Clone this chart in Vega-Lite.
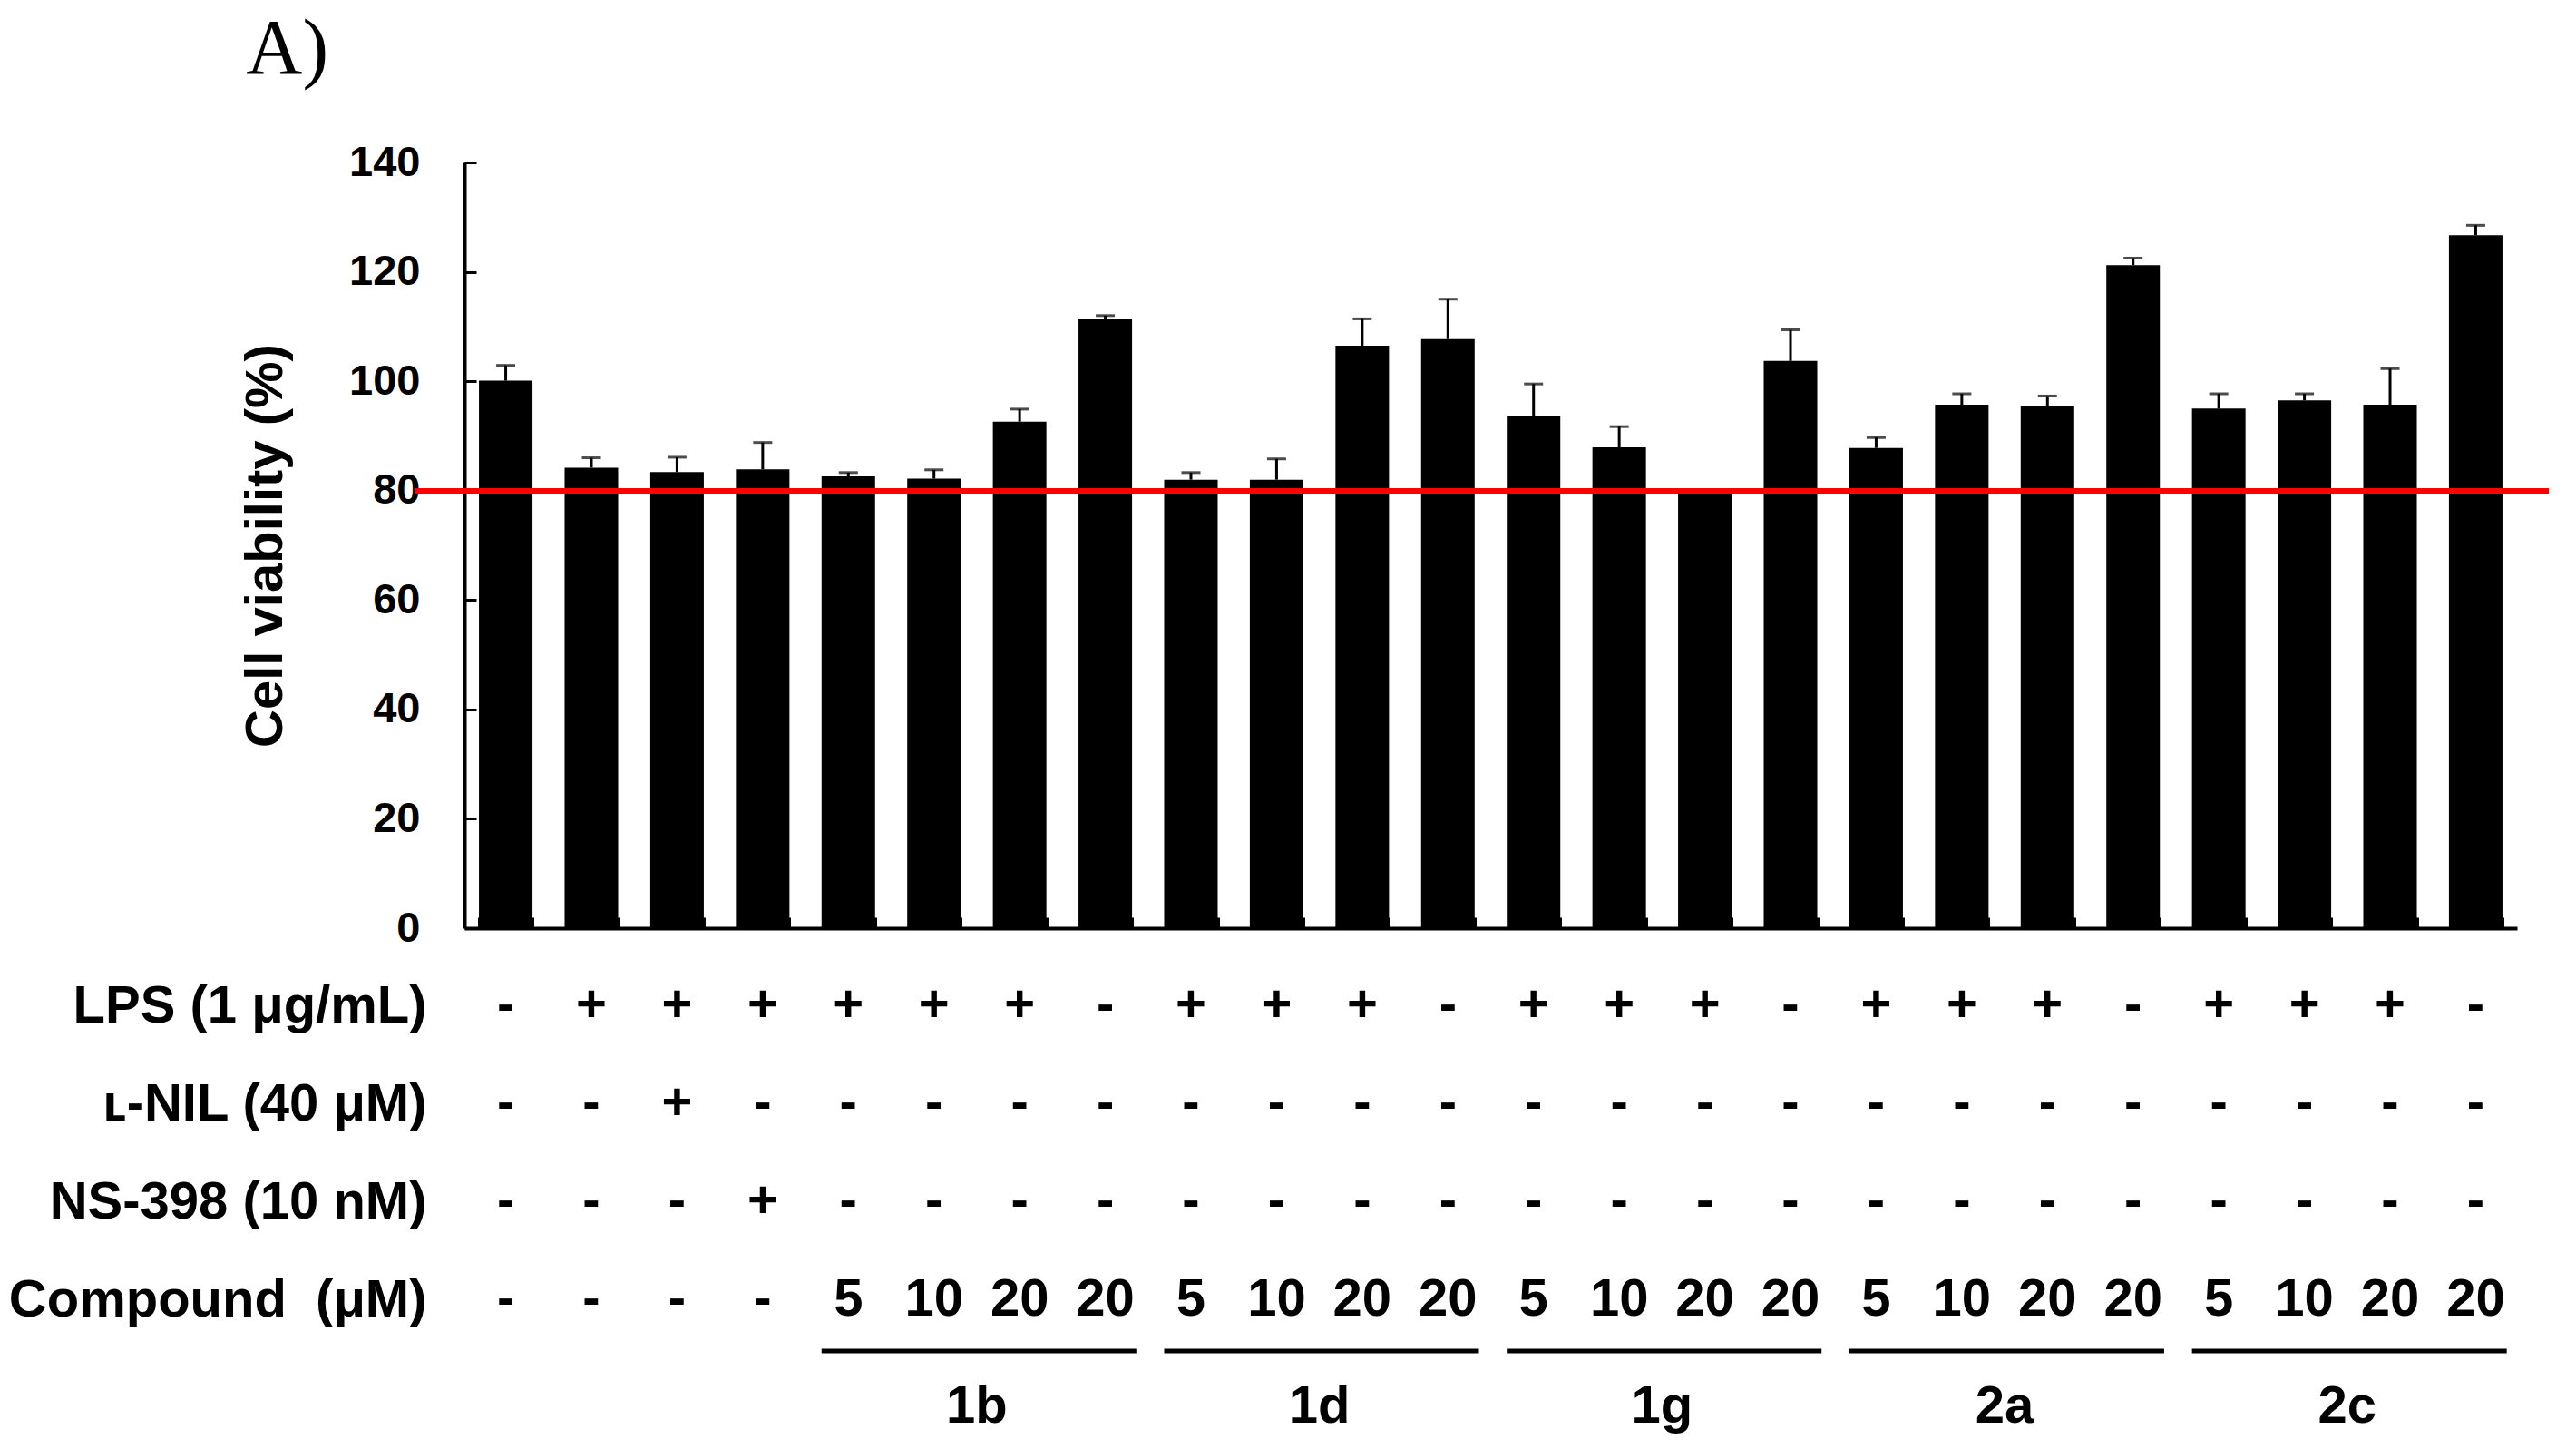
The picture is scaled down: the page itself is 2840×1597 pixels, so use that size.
{
  "$schema": "https://vega.github.io/schema/vega-lite/v6.json",
  "background": "white",
  "padding": {"left": 9, "top": 12, "right": 10, "bottom": 10},
  "title": {"text": "A)", "font": "Liberation Serif", "fontSize": 86, "fontWeight": "normal", "color": "black", "anchor": "start", "dx": 262, "offset": -12, "baseline": "alphabetic"},
  "config": {"view": {"stroke": null}, "font": "Liberation Sans"},
  "spacing": 34,
  "datasets": {
    "bars": [
      {"id": "01", "mean": 100.1, "hi": 102.9, "lps": "-", "nil": "-", "ns": "-", "cmp": "-"},
      {"id": "02", "mean": 84.2, "hi": 86.0, "lps": "+", "nil": "-", "ns": "-", "cmp": "-"},
      {"id": "03", "mean": 83.4, "hi": 86.1, "lps": "+", "nil": "+", "ns": "-", "cmp": "-"},
      {"id": "04", "mean": 83.9, "hi": 88.8, "lps": "+", "nil": "-", "ns": "+", "cmp": "-"},
      {"id": "05", "mean": 82.6, "hi": 83.3, "lps": "+", "nil": "-", "ns": "-", "cmp": "5"},
      {"id": "06", "mean": 82.2, "hi": 83.8, "lps": "+", "nil": "-", "ns": "-", "cmp": "10"},
      {"id": "07", "mean": 92.6, "hi": 94.9, "lps": "+", "nil": "-", "ns": "-", "cmp": "20"},
      {"id": "08", "mean": 111.3, "hi": 112.0, "lps": "-", "nil": "-", "ns": "-", "cmp": "20"},
      {"id": "09", "mean": 82.0, "hi": 83.3, "lps": "+", "nil": "-", "ns": "-", "cmp": "5"},
      {"id": "10", "mean": 82.0, "hi": 85.8, "lps": "+", "nil": "-", "ns": "-", "cmp": "10"},
      {"id": "11", "mean": 106.5, "hi": 111.4, "lps": "+", "nil": "-", "ns": "-", "cmp": "20"},
      {"id": "12", "mean": 107.7, "hi": 115.0, "lps": "-", "nil": "-", "ns": "-", "cmp": "20"},
      {"id": "13", "mean": 93.7, "hi": 99.5, "lps": "+", "nil": "-", "ns": "-", "cmp": "5"},
      {"id": "14", "mean": 87.9, "hi": 91.7, "lps": "+", "nil": "-", "ns": "-", "cmp": "10"},
      {"id": "15", "mean": 80.0, "hi": 80.0, "lps": "+", "nil": "-", "ns": "-", "cmp": "20"},
      {"id": "16", "mean": 103.7, "hi": 109.4, "lps": "-", "nil": "-", "ns": "-", "cmp": "20"},
      {"id": "17", "mean": 87.8, "hi": 89.7, "lps": "+", "nil": "-", "ns": "-", "cmp": "5"},
      {"id": "18", "mean": 95.7, "hi": 97.7, "lps": "+", "nil": "-", "ns": "-", "cmp": "10"},
      {"id": "19", "mean": 95.4, "hi": 97.3, "lps": "+", "nil": "-", "ns": "-", "cmp": "20"},
      {"id": "20", "mean": 121.2, "hi": 122.5, "lps": "-", "nil": "-", "ns": "-", "cmp": "20"},
      {"id": "21", "mean": 95.0, "hi": 97.7, "lps": "+", "nil": "-", "ns": "-", "cmp": "5"},
      {"id": "22", "mean": 96.5, "hi": 97.7, "lps": "+", "nil": "-", "ns": "-", "cmp": "10"},
      {"id": "23", "mean": 95.7, "hi": 102.3, "lps": "+", "nil": "-", "ns": "-", "cmp": "20"},
      {"id": "24", "mean": 126.7, "hi": 128.5, "lps": "-", "nil": "-", "ns": "-", "cmp": "20"}
    ],
    "groups": [
      {"group": "1b", "first": "05", "mid": "06", "last": "08"},
      {"group": "1d", "first": "09", "mid": "10", "last": "12"},
      {"group": "1g", "first": "13", "mid": "14", "last": "16"},
      {"group": "2a", "first": "17", "mid": "18", "last": "20"},
      {"group": "2c", "first": "21", "mid": "22", "last": "24"}
    ]
  },
  "vconcat": [
    {
      "width": 2263,
      "height": 844,
      "data": {"name": "bars"},
      "encoding": {
        "x": {
          "field": "id", "type": "nominal", "sort": null,
          "scale": {"domain": ["01","02","03","04","05","06","07","08","09","10","11","12","13","14","15","16","17","18","19","20","21","22","23","24"], "paddingInner": 0.375, "paddingOuter": 0.17},
          "axis": {"title": null, "labels": false, "tickBand": "extent", "tickSize": -12, "tickWidth": 3, "tickColor": "black", "domainWidth": 4, "domainColor": "black"}
        }
      },
      "layer": [
        {
          "mark": {"type": "bar", "color": "black"},
          "encoding": {
            "y": {
              "field": "mean", "type": "quantitative",
              "scale": {"domain": [0, 140], "nice": false},
              "axis": {"title": "Cell viability (%)", "titleFont": "Liberation Sans", "titleFontSize": 58, "titleFontWeight": "bold", "titleColor": "black", "titlePadding": 62,
                       "values": [0, 20, 40, 60, 80, 100, 120, 140], "grid": false,
                       "labelFontSize": 47, "labelFontWeight": "bold", "labelColor": "black", "labelPadding": 62,
                       "tickSize": -13, "tickWidth": 3, "tickColor": "black", "domainWidth": 4, "domainColor": "black"}
            }
          }
        },
        {
          "mark": {"type": "rule", "color": "black", "strokeWidth": 3},
          "encoding": {"y": {"field": "mean", "type": "quantitative"}, "y2": {"field": "hi"}}
        },
        {
          "mark": {"type": "tick", "color": "black", "thickness": 3, "size": 21},
          "encoding": {"y": {"field": "hi", "type": "quantitative"}}
        },
        {
          "mark": {"type": "rule", "color": "#ff0000", "strokeWidth": 5},
          "encoding": {
            "y": {"datum": 80, "type": "quantitative"},
            "x": {"datum": "01", "type": "nominal", "bandPosition": -1.2},
            "x2": {"datum": "24", "bandPosition": 1.86}
          }
        }
      ]
    },
    {
      "width": 2263,
      "height": 432,
      "layer": [
        {
          "data": {"name": "bars"},
          "transform": [{"fold": ["lps", "nil", "ns", "cmp"], "as": ["row", "txt"]}],
          "mark": {"type": "text", "fontSize": 58, "fontWeight": "bold", "baseline": "alphabetic", "color": "black"},
          "encoding": {
            "x": {"field": "id", "type": "nominal", "sort": null,
                  "scale": {"domain": ["01","02","03","04","05","06","07","08","09","10","11","12","13","14","15","16","17","18","19","20","21","22","23","24"], "paddingInner": 0.375, "paddingOuter": 0.17},
                  "axis": null},
            "y": {"field": "row", "type": "ordinal",
                  "scale": {"type": "point", "domain": ["lps", "nil", "ns", "cmp", "grp"], "padding": 0},
                  "axis": {"title": null, "domain": false, "ticks": false, "labelFontSize": 58, "labelFontWeight": "bold", "labelColor": "black",
                           "labelPadding": 42, "labelLimit": 0, "labelBaseline": "alphabetic",
                           "labelExpr": "datum.value == 'lps' ? 'LPS (1 μg/mL)' : datum.value == 'nil' ? 'ʟ-NIL (40 μM)' : datum.value == 'ns' ? 'NS-398 (10 nM)' : datum.value == 'cmp' ? 'Compound\u00a0 (μM)' : ''"}},
            "text": {"field": "txt"}
          }
        },
        {
          "data": {"name": "groups"},
          "mark": {"type": "rule", "color": "black", "strokeWidth": 5, "yOffset": -69},
          "encoding": {
            "x": {"field": "first", "type": "nominal", "bandPosition": 0},
            "x2": {"field": "last", "bandPosition": 1.08},
            "y": {"datum": "grp", "type": "ordinal"}
          }
        },
        {
          "data": {"name": "groups"},
          "mark": {"type": "text", "fontSize": 58, "fontWeight": "bold", "baseline": "alphabetic", "color": "black", "yOffset": 10},
          "encoding": {
            "x": {"field": "mid", "type": "nominal", "bandPosition": 1.3},
            "y": {"datum": "grp", "type": "ordinal"},
            "text": {"field": "group"}
          }
        }
      ]
    }
  ]
}
